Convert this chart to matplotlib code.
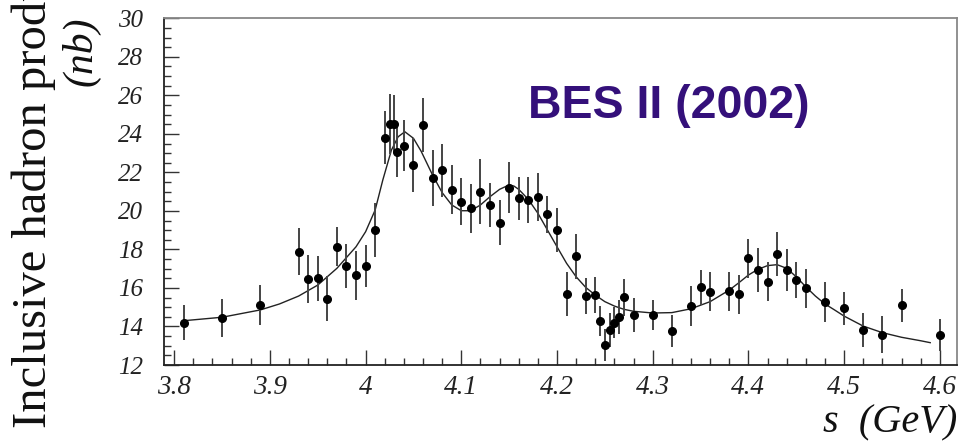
import numpy as np
import matplotlib.pyplot as plt
from matplotlib.ticker import MultipleLocator

# ─── Measured points (BES II, 2002) ──────────────────────────────────
energy = [3.81, 3.85, 3.89, 3.93, 3.94, 3.95, 3.96, 3.97, 3.98, 3.99,
          4.00, 4.01, 4.02, 4.026, 4.03, 4.033, 4.04, 4.05, 4.06, 4.07,
          4.08, 4.09, 4.10, 4.11, 4.12, 4.13, 4.14, 4.15, 4.16, 4.17,
          4.18, 4.19, 4.20, 4.21, 4.22, 4.23, 4.24, 4.245, 4.25, 4.255,
          4.26, 4.265, 4.27, 4.28, 4.30, 4.32, 4.34, 4.35, 4.36, 4.38,
          4.39, 4.40, 4.41, 4.42, 4.43, 4.44, 4.45, 4.46, 4.48, 4.50,
          4.52, 4.54, 4.56, 4.60]
sigma = [14.20, 14.42, 15.12, 17.88, 16.45, 16.50, 15.43, 18.14, 17.14, 16.66,
         17.14, 19.01, 23.79, 24.51, 24.51, 23.04, 23.39, 22.38, 24.46, 21.69,
         22.12, 21.09, 20.48, 20.13, 21.00, 20.31, 19.39, 21.21, 20.65, 20.57,
         20.74, 19.82, 19.01, 15.67, 17.64, 15.58, 15.63, 14.28, 13.04, 13.82,
         14.20, 14.51, 15.51, 14.60, 14.60, 13.77, 15.06, 16.03, 15.81, 15.84,
         15.67, 17.54, 16.93, 16.33, 17.76, 16.93, 16.41, 15.98, 15.29, 14.94,
         13.82, 13.57, 15.09, 13.56]
err = [0.91, 0.99, 1.04, 1.23, 1.25, 1.18, 1.17, 1.00, 1.15, 1.28,
       1.08, 1.38, 1.38, 1.56, 1.50, 1.30, 1.34, 1.38, 1.40, 1.45,
       1.38, 1.27, 1.23, 1.28, 1.68, 1.14, 1.18, 1.31, 1.12, 1.21,
       1.25, 0.97, 1.12, 1.14, 1.17, 0.95, 0.93, 0.78, 0.82, 0.87,
       0.82, 0.88, 0.95, 0.89, 0.80, 0.82, 1.06, 0.91, 1.01, 1.01,
       1.00, 1.02, 1.15, 1.01, 1.12, 1.08, 0.95, 1.01, 1.04, 0.87,
       0.87, 0.97, 0.84, 0.81]

# ─── Fit curve ───────────────────────────────────────────────────────
fit_e = [3.81, 3.85, 3.89, 3.91, 3.93, 3.95, 3.97, 3.99, 4.00, 4.01,
         4.018, 4.027, 4.034, 4.041, 4.050, 4.058, 4.07, 4.08, 4.09, 4.10,
         4.11, 4.12, 4.13, 4.14, 4.15, 4.155, 4.16, 4.17, 4.18, 4.19,
         4.20, 4.21, 4.22, 4.23, 4.24, 4.25, 4.26, 4.27, 4.28, 4.30,
         4.32, 4.34, 4.36, 4.38, 4.39, 4.40, 4.41, 4.42, 4.43, 4.44,
         4.45, 4.46, 4.47, 4.48, 4.49, 4.50, 4.52, 4.54, 4.56, 4.58, 4.59]
fit_s = [14.30, 14.48, 14.86, 15.17, 15.58, 16.15, 17.02, 18.14, 18.92, 20.05,
         21.61, 23.16, 23.85, 24.11, 23.77, 23.10, 21.86, 20.95, 20.31, 20.01,
         20.01, 20.31, 20.74, 21.12, 21.35, 21.29, 21.12, 20.60, 19.88, 19.01,
         18.14, 17.28, 16.58, 16.03, 15.63, 15.29, 15.06, 14.89, 14.79, 14.70,
         14.72, 14.92, 15.29, 15.89, 16.27, 16.67, 16.97, 17.16, 17.21, 17.02,
         16.58, 16.06, 15.58, 15.17, 14.86, 14.54, 14.02, 13.68, 13.44, 13.26, 13.16]

plt.rcParams['font.family'] = ['Liberation Serif', 'DejaVu Serif']

fig = plt.figure(figsize=(9.6, 4.41), dpi=100)
ax = fig.add_axes([0.1711, 0.1723, 0.9969 - 0.1711, 0.9585 - 0.1723])

ax.errorbar(energy, sigma, yerr=err, fmt='o', color='black', ecolor='#444444',
            markersize=5.5, elinewidth=1.4, capsize=0, zorder=3)
ax.plot(fit_e, fit_s, color='#222222', linewidth=1.0, zorder=2)

ax.set_xlim(3.7896, 4.618)
ax.set_ylim(12, 30)
ax.xaxis.set_minor_locator(MultipleLocator(0.02))
ax.yaxis.set_major_locator(MultipleLocator(2))
ax.yaxis.set_minor_locator(MultipleLocator(0.5))
ax.set_xticks(np.arange(3.8, 4.61, 0.1))
ax.set_xticklabels(['3.8', '3.9', '4', '4.1', '4.2', '4.3', '4.4', '4.5', '4.6'])

ax.tick_params(axis='both', which='major', direction='in', length=11, width=1.0,
               color='#333333', top=False, right=False)
ax.tick_params(axis='both', which='minor', direction='in', length=5, width=1.0,
               color='#333333', top=False, right=False)
ax.tick_params(axis='x', which='major', labelsize=19.5, pad=7)
ax.tick_params(axis='y', which='major', labelsize=18, pad=15)
for lab in ax.get_xticklabels() + ax.get_yticklabels():
    lab.set_fontstyle('italic')
    lab.set_color('#222222')

ax.spines['left'].set_color('#222222')
ax.spines['bottom'].set_color('#222222')
ax.spines['top'].set_color('#888888')
ax.spines['right'].set_color('#888888')
for sp in ax.spines.values():
    sp.set_linewidth(1.3)

# axis titles (the long y title runs off the top edge, as in the original)
fig.text(11 / 960, 1 - 428 / 441, 'Inclusive hadron production', rotation=90,
         ha='left', va='bottom', fontsize=35, color='#111111')
fig.text(81.5 / 960, 1 - 51 / 441, '(nb)', rotation=90, ha='center', va='center',
         fontsize=30, fontstyle='italic', color='#111111')
fig.text(957 / 960, 1 - 432 / 441, 's  (GeV)', ha='right', va='baseline',
         fontsize=29, fontstyle='italic', color='#111111')

fig.text(528 / 960, 1 - 118.3 / 441, 'BES II (2002)', ha='left', va='baseline',
         fontsize=33.5, fontweight='bold', color='#34107A',
         family=['Liberation Sans', 'DejaVu Sans'])

fig.savefig('out.png', dpi=100)
